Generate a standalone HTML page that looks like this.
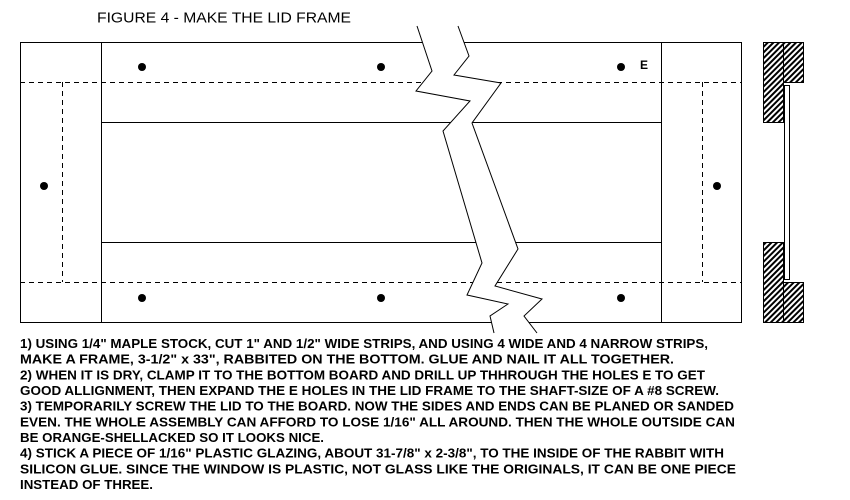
<!DOCTYPE html>
<html><head><meta charset="utf-8"><style>
html,body{margin:0;padding:0;background:#fff;}
svg{display:block;}
text{font-family:"Liberation Sans",Arial,sans-serif;fill:#000;}
.t{font-weight:bold;font-size:12.5px;}
</style></head><body>
<svg width="850" height="500" viewBox="0 0 850 500" xmlns="http://www.w3.org/2000/svg">
<defs>
<pattern id="h" width="4" height="4" patternUnits="userSpaceOnUse" patternTransform="rotate(-45)">
<rect width="4" height="4" fill="#fff"/><rect width="4" height="2" fill="#000"/>
</pattern>
</defs>
<text x="97" y="22.5" font-size="15" textLength="254" lengthAdjust="spacingAndGlyphs">FIGURE 4 - MAKE THE LID FRAME</text>
<g stroke="#000" stroke-width="1" fill="none" shape-rendering="crispEdges">
<rect x="20.5" y="42.5" width="721" height="280"/>
<line x1="101.5" y1="42" x2="101.5" y2="322"/>
<line x1="661.5" y1="42" x2="661.5" y2="322"/>
<line x1="101" y1="122.5" x2="661" y2="122.5"/>
<line x1="101" y1="242.5" x2="661" y2="242.5"/>
<g stroke-dasharray="5,4">
<line x1="20" y1="82.5" x2="741" y2="82.5"/>
<line x1="20" y1="282.5" x2="741" y2="282.5"/>
<line x1="62.5" y1="82" x2="62.5" y2="282"/>
<line x1="702.5" y1="82" x2="702.5" y2="282"/>
</g>
</g>
<g fill="#000">
<circle cx="142" cy="67" r="4"/><circle cx="381" cy="67" r="4"/><circle cx="621" cy="67" r="4"/>
<circle cx="142" cy="298" r="4"/><circle cx="381" cy="298" r="4"/><circle cx="621" cy="298" r="4"/>
<circle cx="44" cy="186" r="4"/><circle cx="717" cy="186" r="4"/>
</g>
<text x="640" y="69" font-size="12" font-weight="bold">E</text>
<polygon fill="#fff" stroke="none" points="417,26 432,71 416,91 470,101 443,131 482,263 467,295 508,304 490,316 494,333 537,333 524,316 542,299 495,286 518,249 472,123 501,83 454,75 469,56 458,26"/>
<polyline fill="none" stroke="#000" points="417,26 432,71 416,91 470,101 443,131 482,263 467,295 508,304 490,316 494,333"/>
<polyline fill="none" stroke="#000" points="458,26 469,56 454,75 501,83 472,123 518,249 495,286 542,299 524,316 537,333"/>
<g stroke="#000" fill="url(#h)" shape-rendering="crispEdges">
<rect x="763.5" y="42.5" width="20" height="80"/>
<rect x="783.5" y="42.5" width="20" height="40"/>
<rect x="763.5" y="242.5" width="20" height="80"/>
<rect x="783.5" y="282.5" width="20" height="40"/>
<rect x="784.5" y="85.5" width="5" height="194" fill="#fff"/>
</g>
<g class="t">
<text x="20" y="348" textLength="688" lengthAdjust="spacingAndGlyphs">1) USING 1/4" MAPLE STOCK, CUT 1" AND 1/2" WIDE STRIPS, AND USING 4 WIDE AND 4 NARROW STRIPS,</text>
<text x="20" y="363.7" textLength="654" lengthAdjust="spacingAndGlyphs">MAKE A FRAME, 3-1/2" x 33", RABBITED ON THE BOTTOM.  GLUE AND NAIL IT ALL TOGETHER.</text>
<text x="20" y="379.3" textLength="685" lengthAdjust="spacingAndGlyphs">2) WHEN IT IS DRY, CLAMP IT TO THE BOTTOM BOARD AND DRILL UP THHROUGH THE HOLES E TO GET</text>
<text x="20" y="395" textLength="699" lengthAdjust="spacingAndGlyphs">GOOD ALLIGNMENT, THEN EXPAND THE E HOLES IN THE LID FRAME TO THE SHAFT-SIZE OF A #8 SCREW.</text>
<text x="20" y="410.7" textLength="714" lengthAdjust="spacingAndGlyphs">3) TEMPORARILY SCREW THE LID TO THE BOARD.  NOW THE SIDES AND ENDS CAN BE PLANED OR SANDED</text>
<text x="20" y="426.3" textLength="715" lengthAdjust="spacingAndGlyphs">EVEN. THE WHOLE ASSEMBLY CAN AFFORD TO LOSE 1/16" ALL AROUND. THEN THE WHOLE OUTSIDE CAN</text>
<text x="20" y="442" textLength="304" lengthAdjust="spacingAndGlyphs">BE ORANGE-SHELLACKED SO IT LOOKS NICE.</text>
<text x="20" y="457.7" textLength="704" lengthAdjust="spacingAndGlyphs">4) STICK A PIECE OF 1/16" PLASTIC GLAZING, ABOUT 31-7/8" x 2-3/8", TO THE INSIDE OF THE RABBIT WITH</text>
<text x="20" y="473.3" textLength="716" lengthAdjust="spacingAndGlyphs">SILICON GLUE. SINCE THE WINDOW IS PLASTIC, NOT GLASS LIKE THE ORIGINALS, IT CAN BE ONE PIECE</text>
<text x="20" y="489" textLength="133" lengthAdjust="spacingAndGlyphs">INSTEAD OF THREE.</text>
</g>
</svg>
</body></html>
